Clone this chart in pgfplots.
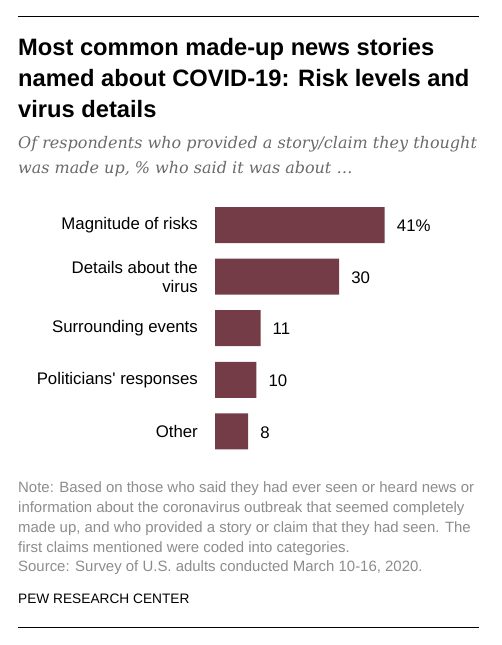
\documentclass[border=0pt]{standalone}
\usepackage{pgfplots}
\pgfplotsset{compat=1.18}
\usepackage{fontspec}
\setmainfont{Liberation Sans}
\newfontfamily\subfont{DejaVu Serif}
\definecolor{bar}{HTML}{733C46}
\definecolor{subgrey}{HTML}{6A6A6A}
\definecolor{notegrey}{HTML}{8C8C8C}
\begin{document}
\begin{tikzpicture}
\path[use as bounding box] (0pt,0pt) rectangle (502pt,-645pt);
\draw[line width=1pt] (18pt,-16pt) -- (479pt,-16pt);
\draw[line width=1pt] (18pt,-627pt) -- (479pt,-627pt);
\node[anchor=base west,inner sep=0pt] at (18pt,-55pt) {\fontsize{23.7}{31}\selectfont\bfseries Most common made-up news stories};
\node[anchor=base west,inner sep=0pt] at (18pt,-86pt) {\fontsize{23.7}{31}\selectfont\bfseries named about COVID-19: Risk levels and};
\node[anchor=base west,inner sep=0pt] at (18pt,-117pt) {\fontsize{23.7}{31}\selectfont\bfseries virus details};
\node[anchor=base west,inner sep=0pt,text=subgrey] at (18pt,-148pt) {\fontsize{16}{25}\selectfont\subfont\itshape Of respondents who provided a story/claim they thought};
\node[anchor=base west,inner sep=0pt,text=subgrey] at (18pt,-173pt) {\fontsize{16}{25}\selectfont\subfont\itshape was made up, \% who said it was about \dots};
\begin{axis}[
  at={(215pt,-199.2pt)}, anchor=north west,
  scale only axis, x=4.14pt, y=51.6pt, y dir=reverse,
  xmin=0, xmax=45, ymin=-0.5, ymax=4.5,
  xbar, bar width=36pt,
  axis line style={draw=none}, major tick length=0pt,
  xtick=\empty, ytick={0,1,2,3,4},
  yticklabels={Magnitude of risks,{Details about the\\virus},Surrounding events,Politicians\textquotesingle\ responses,Other},
  yticklabel style={align=right,inner sep=0pt,xshift=-17pt,font=\fontsize{16.8}{19}\selectfont},
  point meta=explicit symbolic,
  nodes near coords,
  nodes near coords style={anchor=west,inner sep=0pt,xshift=12pt,yshift=-1pt,font=\fontsize{16.8}{18}\selectfont},
  clip=false,
]
\addplot[fill=bar,draw=none] coordinates {(41,0) [41\%] (30,1) [30] (11,2) [11] (10,3) [10] (8,4) [8]};
\end{axis}
\begin{scope}[every node/.style={anchor=base west,inner sep=0pt,text=notegrey,font=\fontsize{14.95}{20}\selectfont}]
\node at (18pt,-492pt) {Note: Based on those who said they had ever seen or heard news or};
\node at (18pt,-512pt) {information about the coronavirus outbreak that seemed completely};
\node at (18pt,-532pt) {made up, and who provided a story or claim that they had seen. The};
\node at (18pt,-552pt) {first claims mentioned were coded into categories.};
\node at (18pt,-571pt) {Source: Survey of U.S. adults conducted March 10-16, 2020.};
\end{scope}
\node[anchor=base west,inner sep=0pt,font=\fontsize{13.7}{20}\selectfont] at (18pt,-603pt) {PEW RESEARCH CENTER};
\end{tikzpicture}
\end{document}
